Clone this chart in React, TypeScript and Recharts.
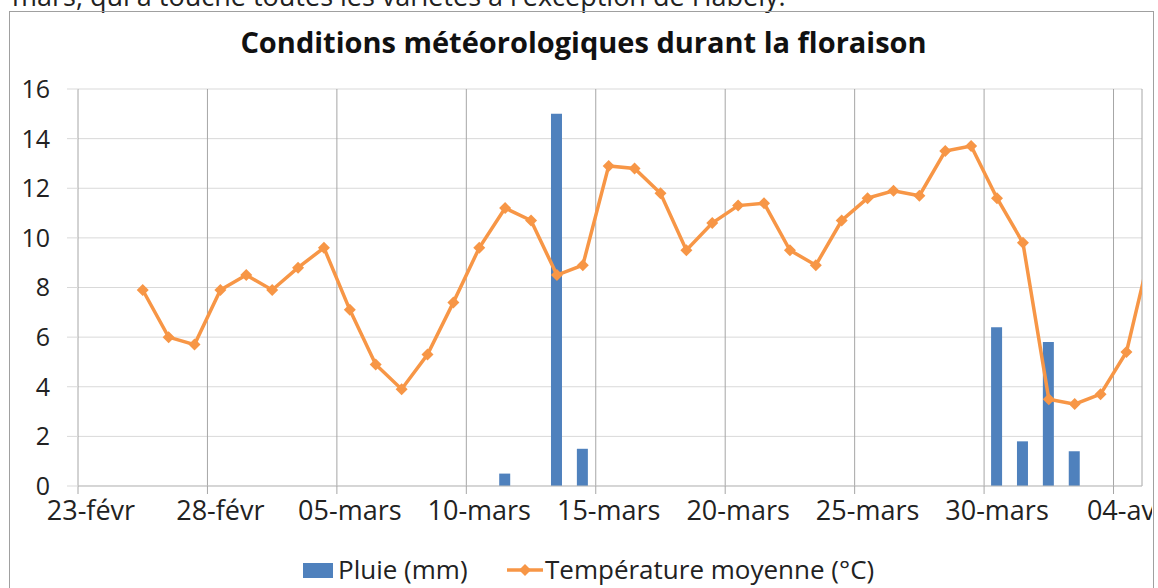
import { Bar, CartesianGrid, ComposedChart, Line, XAxis, YAxis } from "recharts"

// one entry per day, starting 25-févr (2 days after the first axis date, 23-févr)
const days = [
  "25-févr", "26-févr", "27-févr", "28-févr",
  "01-mars", "02-mars", "03-mars", "04-mars", "05-mars", "06-mars", "07-mars", "08-mars", "09-mars", "10-mars",
  "11-mars", "12-mars", "13-mars", "14-mars", "15-mars", "16-mars", "17-mars", "18-mars", "19-mars", "20-mars",
  "21-mars", "22-mars", "23-mars", "24-mars", "25-mars", "26-mars", "27-mars", "28-mars", "29-mars", "30-mars",
  "31-mars", "01-avr", "02-avr", "03-avr", "04-avr", "05-avr",
]
const temperature = [
  7.9, 6.0, 5.7, 7.9,
  8.5, 7.9, 8.8, 9.6, 7.1, 4.9, 3.9, 5.3, 7.4, 9.6,
  11.2, 10.7, 8.5, 8.9, 12.9, 12.8, 11.8, 9.5, 10.6, 11.3,
  11.4, 9.5, 8.9, 10.7, 11.6, 11.9, 11.7, 13.5, 13.7, 11.6,
  9.8, 3.5, 3.3, 3.7, 5.4, 9.8,
]
const rain = [
  null, null, null, null,
  null, null, null, null, null, null, null, null, null, null,
  0.5, null, 15, 1.5, null, null, null, null, null, null,
  null, null, null, null, null, null, null, null, null, 6.4,
  1.8, 5.8, 1.4, null, null, null,
]
const firstDayOffset = 2

const xTicks = [0, 5, 10, 15, 20, 25, 30, 35, 40]
const xTickLabels = ["23-févr", "28-févr", "05-mars", "10-mars", "15-mars", "20-mars", "25-mars", "30-mars", "04-avr"]
const yTicks = [0, 2, 4, 6, 8, 10, 12, 14, 16]

const data = days.map((day, i) => ({
  day,
  pos: firstDayOffset + i + 0.5,
  temperature: temperature[i],
  rain: rain[i],
}))

const BLUE = "#4F81BD"
const ORANGE = "#F79646"
const FONT = "'Open Sans', sans-serif"
const X_MAX = 41.1
const PLOT_LEFT = 78
const PLOT_RIGHT = 1142
const DAY_PX = (PLOT_RIGHT - PLOT_LEFT) / X_MAX

function Diamond(props: any) {
  const { cx, cy } = props
  if (cx == null || cy == null) return null
  const r = 6
  return <path d={`M${cx},${cy - r}L${cx + r},${cy}L${cx},${cy + r}L${cx - r},${cy}Z`} fill={ORANGE} />
}

function DateTick(props: any) {
  const { x, y, payload } = props
  const idx = xTicks.indexOf(payload.value)
  return (
    <text x={x + DAY_PX / 2} y={y + 24} textAnchor="middle" fill="#222" fontSize={27} fontFamily={FONT}>
      {xTickLabels[idx]}
    </text>
  )
}

function ChartLegend() {
  return (
    <div style={{ position: "absolute", left: 0, top: 554, width: 1153, height: 34, fontFamily: FONT, fontSize: 26, color: "#222" }}>
      <div style={{ position: "absolute", left: 303, top: 9, width: 30, height: 15, background: BLUE }} />
      <div style={{ position: "absolute", left: 338, top: -3, whiteSpace: "nowrap" }}>Pluie (mm)</div>
      <svg style={{ position: "absolute", left: 507, top: 6 }} width={36} height={20}>
        <line x1={0} y1={10} x2={36} y2={10} stroke={ORANGE} strokeWidth={3.5} />
        <path d="M18,4L24,10L18,16L12,10Z" fill={ORANGE} />
      </svg>
      <div style={{ position: "absolute", left: 545, top: -3, whiteSpace: "nowrap" }}>Température moyenne (°C)</div>
    </div>
  )
}

export default function App() {
  return (
    <div style={{ position: "fixed", left: 0, top: 0, width: 1158, height: 588, overflow: "hidden", background: "#fff" }}>
      <div
        style={{
          position: "absolute", left: 12, top: -16, fontFamily: FONT, fontSize: 27, lineHeight: "24px",
          color: "#222", whiteSpace: "nowrap",
        }}
      >
        mars, qui a touché toutes les variétés à l'exception de Habely.
      </div>
      <div
        style={{
          position: "absolute", left: 9, top: 11, width: 1145, height: 620,
          border: "1px solid #a0a0a0", boxSizing: "border-box",
        }}
      />
      <div
        style={{
          position: "absolute", left: 0, top: 27, width: 1167, textAlign: "center", fontFamily: FONT,
          fontSize: 29, lineHeight: "29px", fontWeight: 700, color: "#111", whiteSpace: "nowrap",
        }}
      >
        Conditions météorologiques durant la floraison
      </div>
      <div style={{ position: "absolute", left: 0, top: 0, width: 1152, height: 588, overflow: "hidden" }}>
        <ComposedChart
          width={1153}
          height={588}
          data={data}
          margin={{ top: 89, right: 1153 - PLOT_RIGHT, bottom: 72, left: 0 }}
        >
          <CartesianGrid horizontal={true} vertical={false} stroke="#d9d9d9" />
          <CartesianGrid horizontal={false} vertical={true} stroke="#a6a6a6" />
          <XAxis
            dataKey="pos"
            type="number"
            domain={[0, X_MAX]}
            allowDataOverflow
            ticks={xTicks}
            interval={0}
            tick={<DateTick />}
            tickSize={8}
            height={30}
            tickLine={{ stroke: "#a6a6a6" }}
            axisLine={{ stroke: "#bfbfbf" }}
          />
          <YAxis
            width={PLOT_LEFT}
            domain={[0, 16]}
            ticks={yTicks}
            interval={0}
            tickSize={11}
            tickMargin={17}
            tickLine={{ stroke: "#d9d9d9" }}
            axisLine={false}
            tick={{ fill: "#222", fontSize: 25, fontFamily: FONT }}
          />
          <Bar dataKey="rain" name="Pluie (mm)" fill={BLUE} barSize={11} isAnimationActive={false} />
          <Line
            dataKey="temperature"
            name="Température moyenne (°C)"
            stroke={ORANGE}
            strokeWidth={3.5}
            dot={<Diamond />}
            activeDot={false}
            isAnimationActive={false}
          />
        </ComposedChart>
      </div>
      <ChartLegend />
    </div>
  )
}
